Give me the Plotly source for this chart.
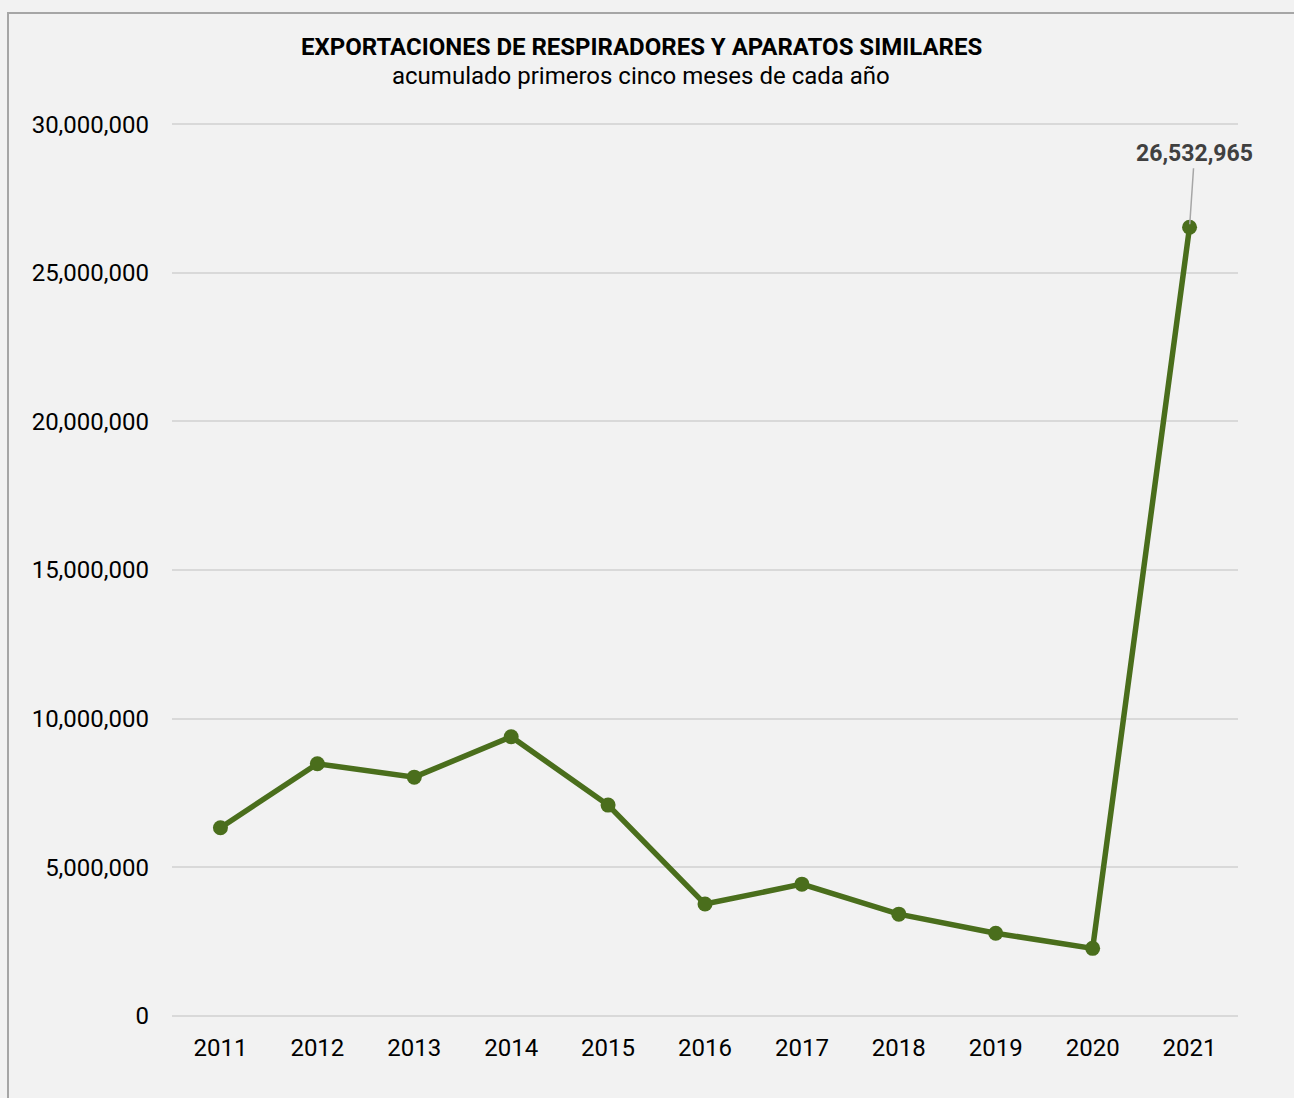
import plotly.graph_objects as go

years = ["2011", "2012", "2013", "2014", "2015", "2016", "2017", "2018", "2019", "2020", "2021"]
values = [6330000, 8480000, 8030000, 9390000, 7090000, 3760000, 4430000, 3420000, 2780000, 2270000, 26532965]
y_ticks = [0, 5000000, 10000000, 15000000, 20000000, 25000000, 30000000]
y_tick_labels = ["0", "5,000,000", "10,000,000", "15,000,000", "20,000,000", "25,000,000", "30,000,000"]

title_text = "EXPORTACIONES DE RESPIRADORES Y APARATOS SIMILARES"
subtitle_text = "acumulado primeros cinco meses de cada año"

W, H = 1294, 1098
ml, mr, mt, mb = 172, 56, 123, 81
pw, ph = W - ml - mr, H - mt - mb

def px_to_paper_x(px):
    return (px - ml) / pw

def px_to_paper_y(py):
    return (H - mb - py) / ph

line_color = "#4a6e1c"

fig = go.Figure()
fig.add_trace(go.Scatter(
    x=years, y=values, mode="lines+markers",
    line=dict(color=line_color, width=5.5),
    marker=dict(color=line_color, size=15),
    hoverinfo="x+y",
))

last = len(years) - 1
fig.add_annotation(
    x=last, y=values[last], xref="x", yref="y",
    text="<b>{:,}</b>".format(values[last]),
    showarrow=True, arrowhead=0, arrowwidth=1.5, arrowcolor="#a6a6a6",
    ax=5, ay=-74, standoff=3,
    font=dict(family="Roboto", size=23, color="#404040"),
)

fig.add_annotation(
    x=px_to_paper_x(641), y=px_to_paper_y(47), xref="paper", yref="paper",
    text="<b>" + title_text + "</b>", showarrow=False,
    font=dict(family="Roboto", size=24, color="#000000"),
    xanchor="center", yanchor="middle",
)
fig.add_annotation(
    x=px_to_paper_x(641), y=px_to_paper_y(76), xref="paper", yref="paper",
    text=subtitle_text, showarrow=False,
    font=dict(family="Roboto", size=24, color="#000000"),
    xanchor="center", yanchor="middle",
)

fig.add_shape(
    type="rect", xref="paper", yref="paper",
    x0=px_to_paper_x(8), x1=px_to_paper_x(W + 20),
    y0=px_to_paper_y(H + 20), y1=px_to_paper_y(13),
    line=dict(color="#a6a6a6", width=2), fillcolor="rgba(0,0,0,0)", layer="below",
)

fig.update_layout(
    width=W, height=H,
    margin=dict(l=ml, r=mr, t=mt, b=mb),
    paper_bgcolor="#f2f2f2", plot_bgcolor="#f2f2f2",
    showlegend=False,
    font=dict(family="Roboto", size=24, color="#000000"),
)
fig.update_xaxes(
    type="category", range=[-0.5, 10.5], showgrid=False, zeroline=False,
    showline=False, ticks="", ticklabelstandoff=14,
    tickfont=dict(family="Roboto", size=24, color="#000000"),
)
fig.update_yaxes(
    range=[-40000, 30040000], tickvals=y_ticks, ticktext=y_tick_labels,
    showgrid=True, gridcolor="#d9d9d9", gridwidth=2, zeroline=False,
    showline=False, ticks="", ticklabelstandoff=22,
    tickfont=dict(family="Roboto", size=24, color="#000000"),
)

fig.write_html(
    "out.html",
    config={"displayModeBar": False},
    post_script="document.body.style.margin='0';document.body.style.background='#f2f2f2';",
)
